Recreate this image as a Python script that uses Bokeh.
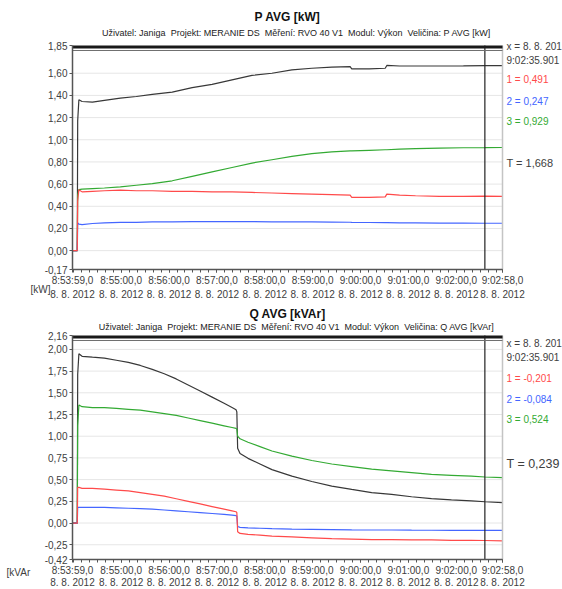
from bokeh.plotting import figure
from bokeh.models import Range1d, FixedTicker, Label, CustomJSTickFormatter
from bokeh.layouts import column
from bokeh.embed import file_html
from bokeh.resources import INLINE

FONT = "Liberation Sans"

# ---------------- shared time axis (seconds after 8:53:59,0) ----------------
time_tick_sec = [0, 61, 121, 181, 241, 301, 361, 421, 481, 539]
time_tick_labels = ["8:53:59,0", "8:55:00,0", "8:56:00,0", "8:57:00,0", "8:58:00,0",
                    "8:59:00,0", "9:00:00,0", "9:01:00,0", "9:02:00,0", "9:02:58,0"]
date_label = "8. 8. 2012"
cursor_sec = 516.901
minor_tick_sec = [1 + 10 * k for k in range(54)] + [539]

# ---------------- P AVG [kW] ----------------
p_t = [0, 6, 6.5, 8, 12, 25, 40, 60, 80, 100, 125, 150, 175, 200, 225, 250, 275, 300,
       325, 348, 350, 372, 392, 394, 410, 430, 460, 490, 517, 539]
p_total = [0, 0, 1.17, 1.36, 1.345, 1.34, 1.355, 1.375, 1.39, 1.41, 1.43, 1.47, 1.50,
           1.54, 1.58, 1.60, 1.63, 1.645, 1.655, 1.66, 1.64, 1.64, 1.645, 1.67, 1.665,
           1.665, 1.665, 1.666, 1.668, 1.668]
p_l1 = [0, 0, 0.45, 0.55, 0.53, 0.535, 0.54, 0.545, 0.54, 0.54, 0.535, 0.535, 0.53, 0.53,
        0.525, 0.52, 0.515, 0.51, 0.505, 0.50, 0.48, 0.48, 0.485, 0.51, 0.50, 0.495,
        0.49, 0.49, 0.491, 0.49]
p_l2 = [0, 0, 0.25, 0.24, 0.235, 0.245, 0.25, 0.255, 0.255, 0.26, 0.26, 0.262, 0.262,
        0.262, 0.262, 0.26, 0.26, 0.26, 0.258, 0.256, 0.255, 0.254, 0.252, 0.252, 0.25,
        0.25, 0.248, 0.248, 0.247, 0.247]
p_l3 = [0, 0, 0.50, 0.55, 0.555, 0.56, 0.565, 0.575, 0.59, 0.605, 0.63, 0.67, 0.71, 0.75,
        0.79, 0.82, 0.85, 0.875, 0.89, 0.90, 0.90, 0.905, 0.91, 0.91, 0.915, 0.92, 0.925,
        0.928, 0.929, 0.93]
p_yticks = [-0.17, 0.0, 0.2, 0.4, 0.6, 0.8, 1.0, 1.2, 1.4, 1.6, 1.85]
p_values_text = ["1 = 0,491", "2 = 0,247", "3 = 0,929", "T = 1,668"]

# ---------------- Q AVG [kVAr] ----------------
q_t = [0, 6, 6.5, 8, 12, 25, 40, 55, 70, 85, 100, 115, 130, 145, 160, 175, 190, 200, 205,
       206, 207, 210, 220, 235, 250, 275, 300, 325, 350, 375, 400, 425, 450, 475, 500, 517, 539]
q_total = [0, 0, 1.71, 1.95, 1.92, 1.91, 1.90, 1.875, 1.85, 1.815, 1.77, 1.72, 1.66, 1.59,
           1.52, 1.45, 1.38, 1.33, 1.305, 1.28, 0.86, 0.80, 0.745, 0.68, 0.615, 0.54, 0.478,
           0.425, 0.387, 0.35, 0.33, 0.303, 0.282, 0.266, 0.256, 0.245, 0.234]
q_l1 = [0, 0, 0.41, 0.41, 0.40, 0.40, 0.39, 0.38, 0.37, 0.35, 0.33, 0.31, 0.28, 0.25, 0.22,
        0.19, 0.16, 0.14, 0.13, 0.12, -0.10, -0.12, -0.13, -0.14, -0.15, -0.16, -0.17,
        -0.18, -0.185, -0.19, -0.19, -0.195, -0.195, -0.20, -0.20, -0.201, -0.205]
q_l2 = [0, 0, 0.18, 0.18, 0.18, 0.18, 0.18, 0.175, 0.17, 0.165, 0.16, 0.15, 0.14, 0.13,
        0.12, 0.11, 0.10, 0.09, 0.085, 0.08, -0.04, -0.05, -0.055, -0.06, -0.065, -0.07,
        -0.072, -0.075, -0.078, -0.08, -0.08, -0.082, -0.083, -0.084, -0.084, -0.084, -0.085]
q_l3 = [0, 0, 1.12, 1.36, 1.34, 1.33, 1.33, 1.32, 1.31, 1.30, 1.28, 1.26, 1.24, 1.21, 1.18,
        1.15, 1.12, 1.10, 1.09, 1.08, 1.00, 0.97, 0.93, 0.88, 0.83, 0.77, 0.72, 0.68, 0.65,
        0.62, 0.60, 0.58, 0.56, 0.55, 0.54, 0.53, 0.524]
q_yticks = [-0.42, -0.25, 0.0, 0.25, 0.5, 0.75, 1.0, 1.25, 1.5, 1.75, 2.0, 2.16]
q_values_text = ["1 = -0,201", "2 = -0,084", "3 = 0,524", "T = 0,239"]

C_T, C_1, C_2, C_3 = "#383838", "#ff4a4a", "#4466ff", "#33aa33"
TXT = "#404040"

W = 562          # canvas width
LEFT = 72        # data area left edge (px in canvas)
FRAME_W = 430    # data area width (px)
NB = "\u00a0\u00a0"


def build(title, subtitle, unit, t, tot, l1, l2, l3, yticks, vals, height, top, frame_h,
          title_dy, sub_dy, ann_dy, t_size, unit_x, unit_dy, lab_lh, lab_standoff):
    y0, y1 = yticks[0], yticks[-1]
    x0, x1 = time_tick_sec[0], time_tick_sec[-1]
    ppy = (y1 - y0) / frame_h
    ppx = (x1 - x0) / FRAME_W
    bottom = height - top - frame_h

    def ypx(dy):                        # pixels below data-area top -> data y
        return y1 - dy * ppy

    def xpx(dx):                        # pixels right of data-area left -> data x
        return x0 + dx * ppx

    p = figure(width=W, height=height, output_backend="svg", toolbar_location=None,
               x_range=Range1d(xpx(-LEFT), xpx(W - LEFT)),
               y_range=Range1d(y0 - bottom * ppy, y1 + top * ppy),
               min_border=0, min_border_left=0, min_border_right=0,
               min_border_top=0, min_border_bottom=0)
    p.outline_line_color = None
    p.background_fill_color = "white"
    p.border_fill_color = "white"
    p.grid.grid_line_color = None

    # axes pinned to the data-area edges
    p.yaxis.fixed_location = x0
    p.yaxis.bounds = (y0, y1)
    p.xaxis.fixed_location = y0
    p.xaxis.bounds = (x0, x1)
    p.yaxis.ticker = FixedTicker(ticks=yticks)
    p.yaxis.formatter = CustomJSTickFormatter(code="return tick.toFixed(2).replace('.', ',');")
    p.xaxis.ticker = FixedTicker(ticks=time_tick_sec, minor_ticks=minor_tick_sec)
    p.xaxis.major_label_overrides = {s: lab + "\n" + date_label
                                     for s, lab in zip(time_tick_sec, time_tick_labels)}
    for ax in (p.xaxis[0], p.yaxis[0]):
        ax.axis_line_color = "#555555"
        ax.axis_line_width = 1.5
        ax.major_tick_line_color = "#555555"
        ax.minor_tick_line_color = "#555555"
        ax.major_tick_in = 0
        ax.major_tick_out = 3
        ax.minor_tick_in = 0
        ax.minor_tick_out = 3
        ax.major_label_text_font = FONT
        ax.major_label_text_font_size = "10px"
        ax.major_label_text_color = TXT
        ax.major_label_standoff = 2
    p.yaxis.minor_tick_line_color = None
    p.xaxis.major_label_text_line_height = lab_lh
    p.xaxis.major_label_standoff = lab_standoff

    # horizontal grid lines (inside the data area only)
    inner = yticks[1:-1]
    p.segment(x0=[x0] * len(inner), y0=inner, x1=[x1] * len(inner), y1=inner,
              line_color="#e6e6e6", line_width=1)

    # series
    p.line(t, tot, color=C_T, line_width=1.2)
    p.line(t, l3, color=C_3, line_width=1.2)
    p.line(t, l2, color=C_2, line_width=1.2)
    p.line(t, l1, color=C_1, line_width=1.2)

    # frame decorations: right border, cursor, thick top band
    p.segment(x0=[x1], y0=[y0], x1=[x1], y1=[y1], line_color="#c4c4c4", line_width=1.5)
    p.segment(x0=[cursor_sec], y0=[y0], x1=[cursor_sec], y1=[y1], line_color="#222222",
              line_width=1.2)
    p.segment(x0=[x0], y0=[ypx(1.5)], x1=[x1], y1=[ypx(1.5)], line_color="#1a1a1a",
              line_width=3)
    p.segment(x0=[x0], y0=[ypx(5)], x1=[x1], y1=[ypx(5)], line_color="#707070",
              line_width=1)

    # titles
    xc = (x0 + x1) / 2
    p.add_layout(Label(x=xc, y=ypx(title_dy), text=title, text_align="center",
                       text_baseline="middle", text_font=FONT, text_font_size="12px",
                       text_font_style="bold", text_color="#111111"))
    p.add_layout(Label(x=xpx(224), y=ypx(sub_dy), text=subtitle, text_align="center",
                       text_baseline="middle", text_font=FONT, text_font_size="9px",
                       text_color="#222222"))
    # unit label
    p.add_layout(Label(x=xpx(unit_x), y=y0 - unit_dy * ppy, text=unit,
                       text_align="left", text_baseline="middle", text_font=FONT,
                       text_font_size="10px", text_color=TXT))

    # right side cursor read-out
    xr = x1 + 4 * ppx
    texts = ["x = 8. 8. 201", "9:02:35.901"] + vals
    colors = [TXT, TXT, C_1, C_2, C_3, TXT]
    sizes = ["10px"] * 5 + [t_size]
    for txt, col, sz, dy in zip(texts, colors, sizes, ann_dy):
        p.add_layout(Label(x=xr, y=ypx(dy), text=txt, text_align="left",
                           text_baseline="middle", text_font=FONT, text_font_size=sz,
                           text_color=col))
    return p


sub_p = NB.join(["Uživatel: Janiga", "Projekt: MERANIE DS", "Měření: RVO 40 V1",
                 "Modul: Výkon", "Veličina: P AVG [kW]"])
sub_q = NB.join(["Uživatel: Janiga", "Projekt: MERANIE DS", "Měření: RVO 40 V1",
                 "Modul: Výkon", "Veličina: Q AVG [kVAr]"])

p1 = build("P AVG [kW]", sub_p, "[kW]", p_t, p_total, p_l1, p_l2, p_l3, p_yticks,
           p_values_text, height=302, top=45, frame_h=224, title_dy=-29, sub_dy=-13,
           ann_dy=[1, 15, 34, 56, 76, 117], t_size="11px", unit_x=-42, unit_dy=20,
           lab_lh=1.35, lab_standoff=2)
p2 = build("Q AVG [kVAr]", sub_q, "[kVAr", q_t, q_total, q_l1, q_l2, q_l3, q_yticks,
           q_values_text, height=287, top=33, frame_h=224, title_dy=-22, sub_dy=-9,
           ann_dy=[8, 22, 43, 64, 84, 128], t_size="12.5px", unit_x=-66, unit_dy=13,
           lab_lh=1.1, lab_standoff=2)

layout = column(p1, p2, spacing=0)
open("out.html", "w").write(file_html(layout, INLINE))
